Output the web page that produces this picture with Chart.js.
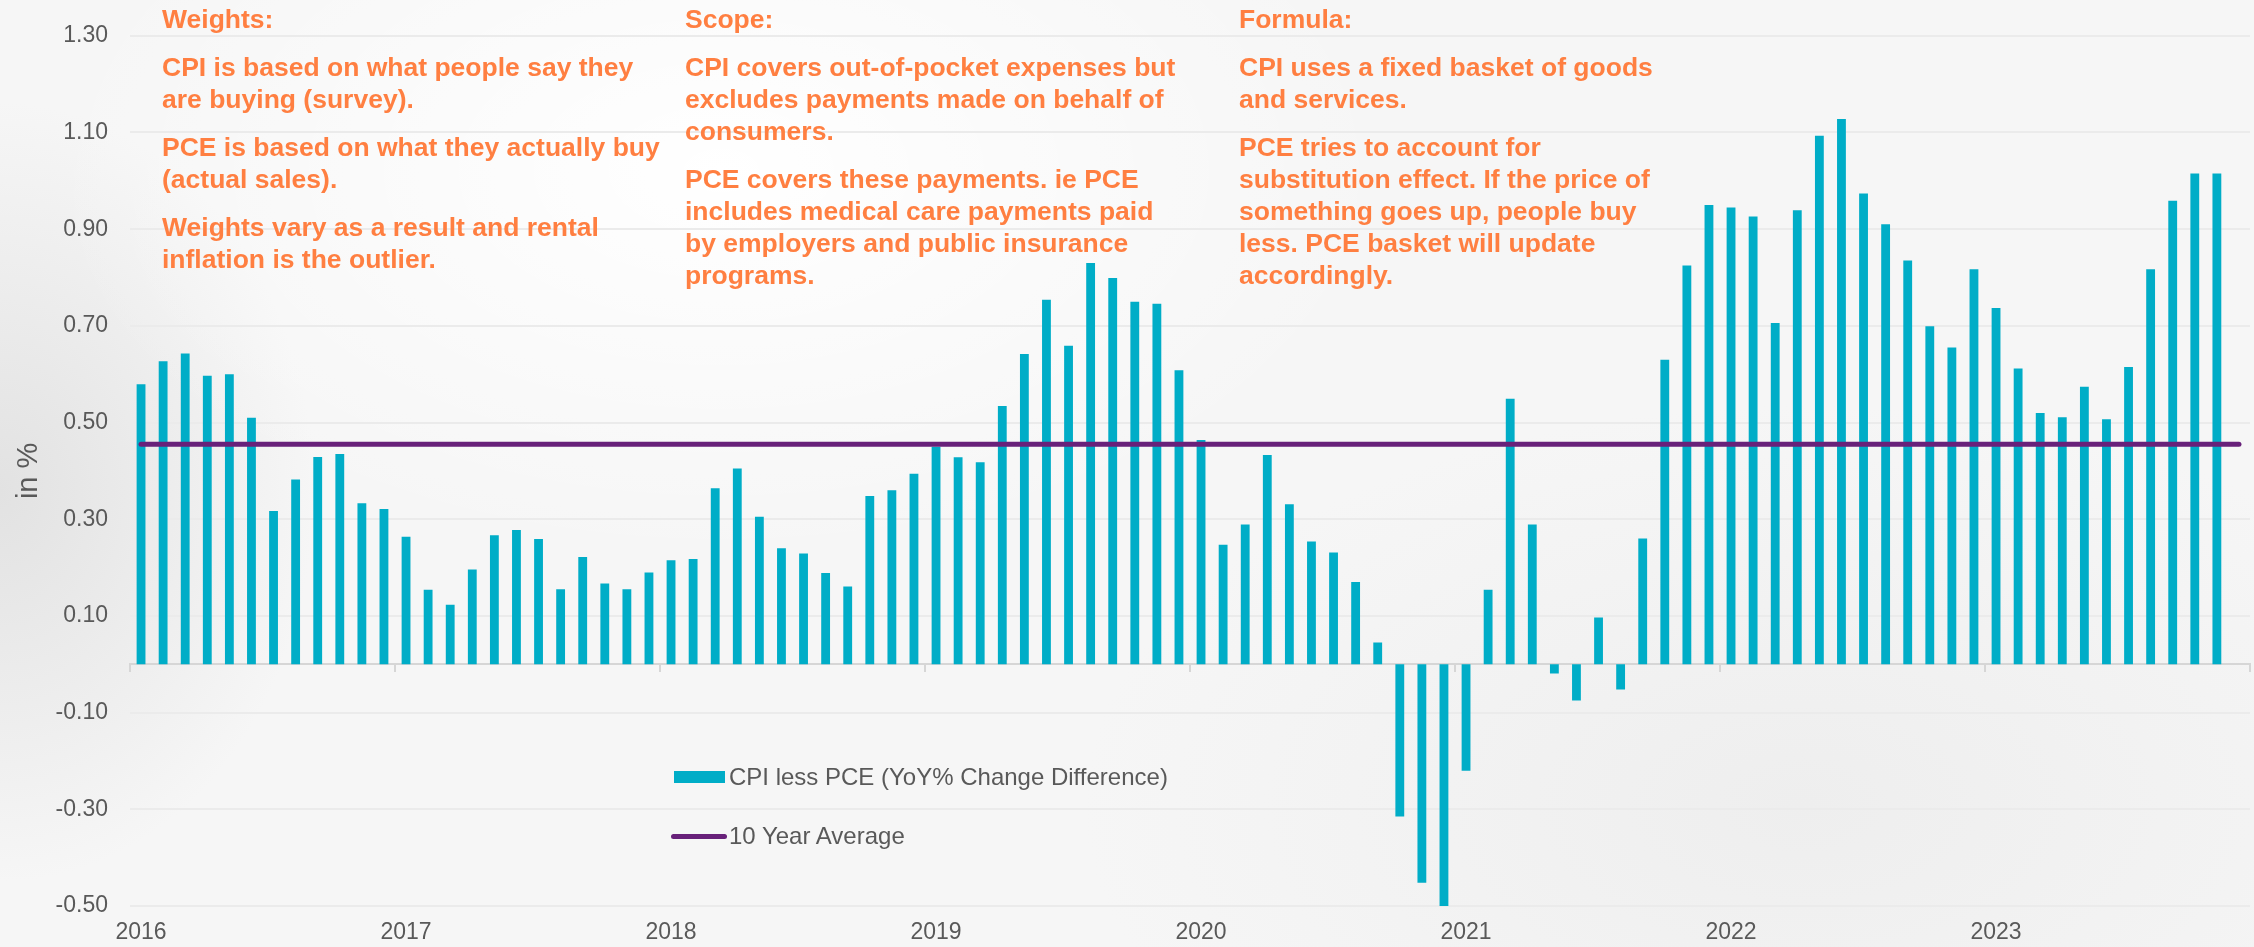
<!DOCTYPE html>
<html>
<head>
<meta charset="utf-8">
<script src="https://cdn.jsdelivr.net/npm/chart.js@4.4.1/dist/chart.umd.min.js"></script>
<style>
  html, body { margin: 0; padding: 0; }
  body {
    width: 2254px; height: 947px; overflow: hidden; position: relative;
    font-family: "Liberation Sans", Arial, sans-serif;
    background:
      radial-gradient(ellipse 900px 520px at 32% 18%, rgba(255,255,255,1), rgba(255,255,255,0) 75%),
      radial-gradient(ellipse 420px 520px at 0% 52%, rgba(226,226,226,1), rgba(226,226,226,0) 75%),
      radial-gradient(ellipse 900px 500px at 80% 85%, rgba(238,238,238,1), rgba(238,238,238,0) 80%),
      #f6f6f6;
  }
  #wrap { position: absolute; left: 0; top: 0; width: 2254px; height: 947px; }
  .note {
    position: absolute; top: 3px; color: #ff7f41;
    font: bold 26.5px/32px "Liberation Sans", Arial, sans-serif;
  }
  .note p { margin: 16px 0 0 0; }
  .note p:first-child { margin-top: 0; }
  #legend { position: absolute; left: 671px; top: 763px; color: #595959; font: 24px "Liberation Sans", Arial, sans-serif; }
  #legend .item { display: flex; align-items: center; height: 28px; margin-bottom: 31px; }
  #legend .sw { display: inline-block; }
</style>
</head>
<body>
<div id="wrap"><canvas id="chart"></canvas></div>

<div class="note" style="left:162px">
  <p>Weights:</p>
  <p>CPI is based on what people say they<br>are buying (survey).</p>
  <p>PCE is based on what they actually buy<br>(actual sales).</p>
  <p>Weights vary as a result and rental<br>inflation is the outlier.</p>
</div>
<div class="note" style="left:685px">
  <p>Scope:</p>
  <p>CPI covers out-of-pocket expenses but<br>excludes payments made on behalf of<br>consumers.</p>
  <p>PCE covers these payments. ie PCE<br>includes medical care payments paid<br>by employers and public insurance<br>programs.</p>
</div>
<div class="note" style="left:1239px">
  <p>Formula:</p>
  <p>CPI uses a fixed basket of goods<br>and services.</p>
  <p>PCE tries to account for<br>substitution effect. If the price of<br>something goes up, people buy<br>less. PCE basket will update<br>accordingly.</p>
</div>

<div id="legend"></div>

<script>
// years on the axis, one bar per month
var years = [2016, 2017, 2018, 2019, 2020, 2021, 2022, 2023];
var months = [];
years.forEach(function (y) {
  for (var m = 1; m <= 12; m++) months.push(y + '-' + (m < 10 ? '0' + m : m));
});

// CPI less PCE, YoY% change difference, Jan 2016 .. Dec 2023
var cpiLessPce2016 = [0.579, 0.627, 0.643, 0.597, 0.600, 0.510, 0.317, 0.382, 0.429, 0.435, 0.333, 0.321];
var cpiLessPce2017 = [0.264, 0.154, 0.123, 0.196, 0.267, 0.278, 0.259, 0.155, 0.222, 0.167, 0.155, 0.190];
var cpiLessPce2018 = [0.215, 0.218, 0.364, 0.405, 0.305, 0.240, 0.229, 0.189, 0.161, 0.348, 0.360, 0.394];
var cpiLessPce2019 = [0.450, 0.428, 0.418, 0.534, 0.642, 0.754, 0.659, 0.830, 0.799, 0.750, 0.746, 0.608];
var cpiLessPce2020 = [0.464, 0.247, 0.289, 0.433, 0.331, 0.254, 0.231, 0.170, 0.045, -0.315, -0.452, -0.503];
var cpiLessPce2021 = [-0.220, 0.154, 0.549, 0.289, -0.019, -0.075, 0.097, -0.052, 0.260, 0.630, 0.825, 0.950];
var cpiLessPce2022 = [0.945, 0.926, 0.706, 0.939, 1.093, 1.128, 0.974, 0.910, 0.835, 0.699, 0.655, 0.817];
var cpiLessPce2023 = [0.737, 0.612, 0.520, 0.511, 0.574, 0.507, 0.615, 0.817, 0.959, 1.015, 1.015, null];

var tenYearAverage = 0.455;

var yTicks = { min: -0.5, max: 1.3, step: 0.2 };

var cpiLessPce = [].concat(cpiLessPce2016, cpiLessPce2017, cpiLessPce2018, cpiLessPce2019,
  cpiLessPce2020, cpiLessPce2021, cpiLessPce2022, cpiLessPce2023);

var TEAL = '#00adc7';
var PURPLE = '#68217a';
var GREY_TXT = '#595959';

function isYearStart(i) { return i % 12 === 0; }

var htmlLegend = {
  id: 'htmlLegend',
  afterInit: function (chart) {
    var box = document.getElementById('legend');
    box.innerHTML = '';
    chart.data.datasets.forEach(function (ds) {
      var row = document.createElement('div');
      row.className = 'item';
      var sw = document.createElement('span');
      sw.className = 'sw';
      if (ds.type === 'line') {
        sw.style.cssText = 'width:56px;height:5px;border-radius:3px;margin-right:2px;background:' + ds.borderColor;
      } else {
        sw.style.cssText = 'width:51px;height:12px;margin-left:3px;margin-right:4px;background:' + ds.backgroundColor;
      }
      var txt = document.createElement('span');
      txt.textContent = ds.label;
      row.appendChild(sw);
      row.appendChild(txt);
      box.appendChild(row);
    });
  }
};

var ctx = document.getElementById('chart').getContext('2d');
var chart = new Chart(ctx, {
  type: 'bar',
  data: {
    labels: months,
    datasets: [
      {
        type: 'bar',
        label: 'CPI less PCE (YoY% Change Difference)',
        data: cpiLessPce,
        backgroundColor: TEAL,
        categoryPercentage: 1.0,
        barPercentage: 0.4,
        order: 1
      },
      {
        type: 'line',
        label: '10 Year Average',
        data: [
          { x: months[0], y: tenYearAverage },
          { x: months[months.length - 1], y: tenYearAverage }
        ],
        borderColor: PURPLE,
        borderWidth: 5,
        borderCapStyle: 'round',
        pointRadius: 0,
        fill: false,
        order: 0
      }
    ]
  },
  options: {
    responsive: true,
    maintainAspectRatio: false,
    animation: false,
    layout: { padding: { left: 0, top: 21, right: 4, bottom: 0 } },
    plugins: {
      legend: { display: false },
      tooltip: { enabled: false }
    },
    scales: {
      x: {
        type: 'category',
        offset: true,
        grid: { display: false, drawTicks: false, offset: true },
        border: { display: false },
        ticks: {
          autoSkip: false,
          maxRotation: 0,
          padding: 13,
          color: GREY_TXT,
          font: { family: 'Liberation Sans', size: 23 },
          callback: function (v, i) { return isYearStart(i) ? String(years[i / 12]) : ''; }
        },
        afterFit: function (s) { s.height = 41; }
      },
      x2: {
        type: 'category',
        position: { y: 0 },
        offset: true,
        grid: {
          offset: true,
          drawOnChartArea: false,
          drawTicks: true,
          tickLength: 7,
          lineWidth: 2,
          color: function (c) {
            return (c.index === undefined || isYearStart(c.index)) ? '#d6d6d6' : 'rgba(0,0,0,0)';
          }
        },
        border: { display: true, color: '#d6d6d6', width: 2 },
        ticks: { display: false }
      },
      y: {
        min: yTicks.min,
        max: yTicks.max,
        grid: { color: '#ebebeb', lineWidth: 2, drawTicks: false },
        border: { display: false },
        ticks: {
          stepSize: yTicks.step,
          padding: 22,
          color: GREY_TXT,
          font: { family: 'Liberation Sans', size: 23 },
          callback: function (v) { return v.toFixed(2); }
        },
        title: {
          display: true,
          text: 'in %',
          color: GREY_TXT,
          font: { family: 'Liberation Sans', size: 29 },
          padding: { top: 12, bottom: 0 }
        },
        afterFit: function (s) { s.width = 130; }
      }
    }
  },
  plugins: [htmlLegend]
});
</script>
</body>
</html>
